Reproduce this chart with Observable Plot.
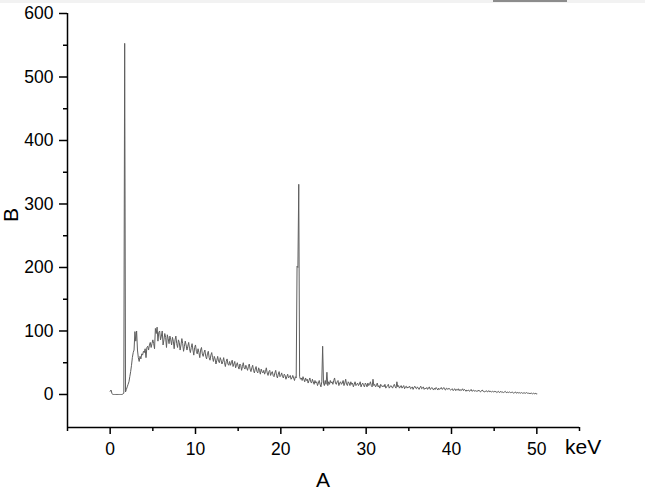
<!DOCTYPE html>
<html><head><meta charset="utf-8">
<script src="https://cdn.jsdelivr.net/npm/d3@7"></script>
<script src="https://cdn.jsdelivr.net/npm/@observablehq/plot@0.6"></script>
<style>
body{margin:0;background:#fff;overflow:hidden}
svg{display:block}
</style>
</head><body><div id="chart"></div>
<script>
// Spectrum counts, one row per keV (0.1 keV channels)
const counts = [
  5,7,2,0,0,0,0,0,0,0,
  0,0,0,0,0,1,2,553,4,8,
  12,16,20,28,36,46,58,66,70,99,
  84,100,70,58,52,60,56,64,62,68,
  66,72,58,74,76,70,78,82,74,80,
  86,80,72,104,96,106,84,98,100,86,
  92,100,78,86,96,90,74,94,88,80,
  92,86,78,90,84,72,86,92,80,74,
  86,82,70,78,88,80,68,76,84,78,
  70,76,82,72,66,74,80,70,62,74,
  78,68,64,72,66,58,70,74,64,60,
  66,70,60,56,64,68,58,54,62,66,
  58,52,60,56,48,54,60,52,50,58,
  54,48,52,58,50,44,52,56,48,46,
  52,46,50,54,44,48,52,42,46,50,
  44,40,48,46,38,44,50,42,40,46,
  42,38,44,48,40,36,42,46,38,34,
  40,44,36,34,42,38,32,40,36,34,
  38,32,36,42,34,30,36,38,30,34,
  36,30,28,34,38,30,26,32,36,28,
  30,34,28,26,32,30,24,28,32,26,
  28,30,24,26,30,26,22,28,26,202,
  200,331,28,24,26,22,28,24,20,26,
  22,24,18,22,26,20,18,24,20,16,
  22,18,20,14,18,22,16,12,20,76,
  18,14,22,16,35,14,20,16,22,18,
  20,16,22,26,18,16,20,22,14,18,
  20,16,18,22,14,18,24,16,14,20,
  18,14,20,16,18,12,16,20,14,16,
  18,14,16,20,12,16,18,14,12,18,
  16,12,18,14,16,20,14,12,24,14,
  16,12,14,18,12,14,10,16,14,12,
  14,12,16,10,12,14,16,10,12,14,
  12,10,14,16,12,10,20,12,14,10,
  12,14,10,12,14,9,12,13,10,12,
  11,13,9,10,12,8,11,13,10,9,
  12,10,8,11,13,9,10,12,8,10,
  9,11,8,10,12,8,9,11,9,7,
  10,8,11,9,7,10,8,9,11,8,
  9,11,8,7,10,9,8,10,8,7,
  8,9,6,8,9,6,8,7,9,6,
  8,6,7,9,6,8,7,5,7,6,
  7,5,6,8,5,6,7,5,6,5,
  6,5,7,5,4,6,7,5,5,4,
  5,6,4,5,6,4,5,4,5,4,
  5,4,5,3,4,5,3,4,5,3,
  4,3,4,5,3,3,4,3,4,3,
  3,4,3,2,3,4,2,3,3,2,
  3,2,3,2,2,3,2,2,3,2,
  2,2,1,2,2,1,2,1,2,1,
  1
];
const energyStart = 0;      // keV of first channel
const energyStep = 0.1;     // keV per channel
const xMajorTicks = [0, 10, 20, 30, 40, 50];
const xMinorTicks = [-5, 5, 15, 25, 35, 45, 55];
const yMajorTicks = [0, 100, 200, 300, 400, 500, 600];
const yMinorTicks = [50, 150, 250, 350, 450, 550];
const xDomain = [-5, 55];
const yDomain = [-52, 600];
const xLabel = "A";
const yLabel = "B";
const unitLabel = "keV";

const data = counts.map((c, i) => ({keV: +(energyStart + i * energyStep).toFixed(1), counts: c}));
const blank = () => "";
const FONT = "'Liberation Sans', Arial, sans-serif";

const chart = Plot.plot({
  width: 645,
  height: 500,
  marginLeft: 67,
  marginRight: 66,
  marginTop: 13,
  marginBottom: 73,
  style: {fontFamily: FONT, fontSize: "17px", color: "#000", background: "#fff", overflow: "visible", maxWidth: "none"},
  x: {domain: xDomain},
  y: {domain: yDomain},
  marks: [
    Plot.line(data, {x: "keV", y: "counts", stroke: "#5e5e5e", strokeWidth: 1}),
    Plot.axisX(xMajorTicks, {tickSize: 7, tickPadding: 8, strokeWidth: 1.5, label: null}),
    Plot.axisX(xMinorTicks, {tickSize: 4, tickFormat: blank, strokeWidth: 1.5, label: null}),
    Plot.axisY(yMajorTicks, {tickSize: 8, tickPadding: 6, strokeWidth: 1.5, label: null}),
    Plot.axisY(yMinorTicks, {tickSize: 4, tickFormat: blank, strokeWidth: 1.5, label: null}),
    Plot.ruleX([xDomain[0]], {stroke: "#000", strokeWidth: 1.5}),
    Plot.ruleY([yDomain[0]], {stroke: "#000", strokeWidth: 1.5})
  ]
});

const svg = d3.select(chart);
// enlarge tick labels
svg.selectAll("text").each(function() {
  this.setAttribute("font-size", "17");
  this.style.fontSize = "17.5px";
  this.style.fontFamily = FONT;
  this.style.fill = "#000";
});
svg.selectAll("g").each(function() {
  if (this.getAttribute("font-size")) this.setAttribute("font-size", "17.5");
});
svg.insert("rect", ":first-child").attr("x", 0).attr("y", 0).attr("width", 645).attr("height", 3).attr("fill", "#f2f2f2");
svg.append("rect").attr("x", 493).attr("y", 0).attr("width", 74).attr("height", 2).attr("fill", "#8c8c8c");
const lbl = (t) => svg.append("text").style("font-size", "21px").style("font-family", FONT).attr("fill", "#000").text(t);
lbl(unitLabel).attr("x", 565).attr("y", 454).attr("text-anchor", "start");
lbl(xLabel).attr("x", 323).attr("y", 487).attr("text-anchor", "middle");
lbl(yLabel).attr("transform", "translate(18,215) rotate(-90)").attr("text-anchor", "middle");

document.getElementById("chart").appendChild(chart);
</script>
</body></html>
